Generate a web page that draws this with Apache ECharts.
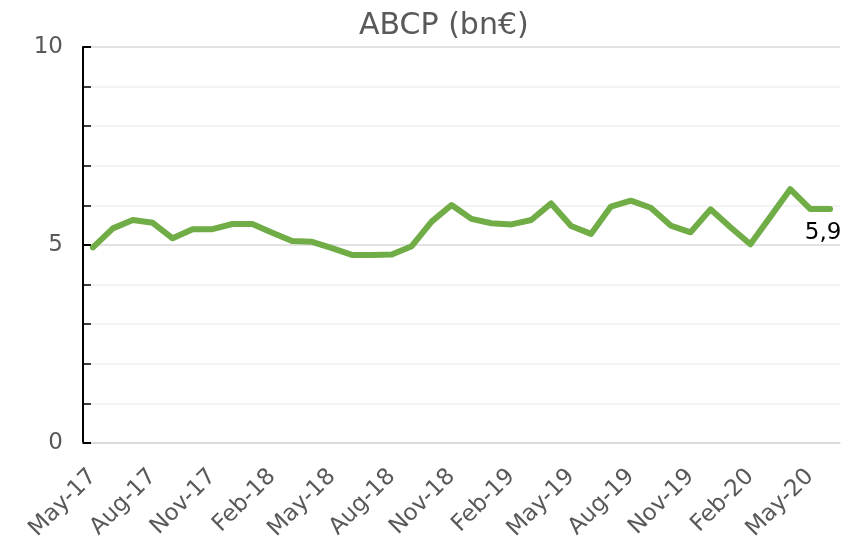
<!DOCTYPE html>
<html>
<head>
  <meta charset="UTF-8">
  <title>ABCP (bn€)</title>
  <script src="https://cdn.jsdelivr.net/npm/echarts/dist/echarts.min.js"></script>
  <style>
    html, body { margin: 0; padding: 0; background: #ffffff; }
    #main { width: 863px; height: 541px; }
  </style>
</head>
<body>
  <div id="main"></div>
  <script>
    var months = [
      'May-17','Jun-17','Jul-17','Aug-17','Sep-17','Oct-17','Nov-17','Dec-17',
      'Jan-18','Feb-18','Mar-18','Apr-18','May-18','Jun-18','Jul-18','Aug-18',
      'Sep-18','Oct-18','Nov-18','Dec-18','Jan-19','Feb-19','Mar-19','Apr-19',
      'May-19','Jun-19','Jul-19','Aug-19','Sep-19','Oct-19','Nov-19','Dec-19',
      'Jan-20','Feb-20','Mar-20','Apr-20','May-20','Jun-20'
    ];
    var abcp = [
      4.94, 5.42, 5.63, 5.56, 5.17, 5.40, 5.40, 5.53,
      5.53, 5.31, 5.10, 5.08, 4.92, 4.75, 4.75, 4.76,
      4.97, 5.59, 6.01, 5.66, 5.55, 5.52, 5.63, 6.05,
      5.48, 5.28, 5.97, 6.12, 5.94, 5.49, 5.32, 5.90,
      5.45, 5.02, 5.71, 6.41, 5.91, 5.91
    ];
    var yTicks = [0, 5, 10];

    var chart = echarts.init(document.getElementById('main'));
    var grey = '#595959';
    var font = 'DejaVu Sans';

    var option = {
      backgroundColor: '#ffffff',
      animation: false,
      title: {
        text: 'ABCP (bn€)',
        left: 354,
        top: 6,
        textStyle: { color: grey, fontFamily: font, fontSize: 30, fontWeight: 'normal' }
      },
      grid: { left: 83, right: 23, top: 47, bottom: 98, containLabel: false, outerBoundsMode: 'none' },
      xAxis: [
        {
          type: 'category',
          data: months,
          boundaryGap: true,
          axisLine: { lineStyle: { color: '#d9d9d9', width: 1.5 } },
          axisTick: { interval: 0, length: 5, lineStyle: { color: '#d9d9d9', width: 1.5 } },
          axisLabel: {
            interval: 2,
            rotate: 45,
            margin: 30,
            color: grey,
            fontFamily: font,
            fontSize: 23
          },
          splitLine: { show: false }
        },
        {
          type: 'category',
          data: months,
          position: 'bottom',
          boundaryGap: true,
          axisLine: { show: false },
          axisTick: { interval: 2, length: 8, lineStyle: { color: '#d9d9d9', width: 1.5 } },
          axisLabel: { show: false },
          splitLine: { show: false }
        }
      ],
      yAxis: {
        type: 'value',
        min: yTicks[0],
        max: yTicks[yTicks.length - 1],
        interval: 5,
        axisLine: { show: true, lineStyle: { color: '#000000', width: 2 } },
        axisTick: { show: true, inside: true, length: 8, lineStyle: { color: '#000000', width: 2 } },
        minorTick: { show: true, splitNumber: 5, length: 8, lineStyle: { color: '#000000', width: 1.5 } },
        axisLabel: { color: grey, fontFamily: font, fontSize: 23, margin: 20 },
        splitLine: { show: true, lineStyle: { color: '#d9d9d9', width: 1.5 } },
        minorSplitLine: { show: true, lineStyle: { color: '#f0f0f0', width: 1.5 } }
      },
      series: [
        {
          name: 'ABCP',
          type: 'line',
          data: abcp,
          symbol: 'none',
          lineStyle: { color: '#70ad47', width: 6, join: 'round', cap: 'round' },
          itemStyle: { color: '#70ad47' },
          markPoint: {
            symbol: 'circle',
            symbolSize: 0,
            data: [{ coord: [abcp.length - 1, abcp[abcp.length - 1]], value: abcp[abcp.length - 1] }],
            label: {
              show: true,
              position: 'bottom',
              distance: 13,
              offset: [-7, 0],
              color: '#000000',
              fontFamily: font,
              fontSize: 23,
              formatter: function (p) { return p.value.toFixed(1).replace('.', ','); }
            }
          }
        }
      ]
    };

    chart.setOption(option);
  </script>
</body>
</html>
